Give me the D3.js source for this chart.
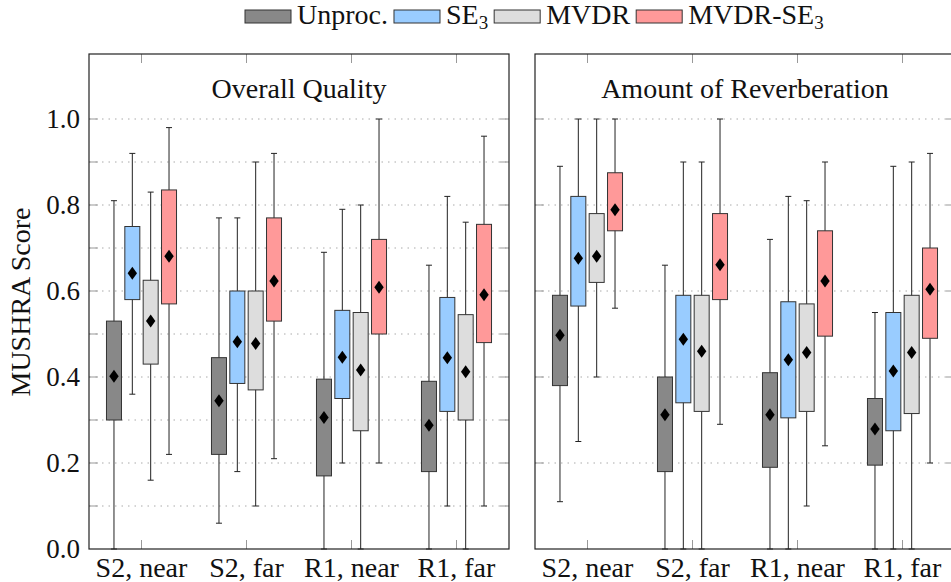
<!DOCTYPE html>
<html>
<head>
<meta charset="utf-8">
<script src="https://cdn.jsdelivr.net/npm/d3@7"></script>
<style>
body { margin: 0; background: #fff; }
svg text { font-family: "Liberation Serif", "Times New Roman", "DejaVu Serif", serif; fill: #111; }
</style>
</head>
<body>
<script>
var categories = ["S2, near", "S2, far", "R1, near", "R1, far"];
var series = ["Unproc.", "SE3", "MVDR", "MVDR-SE3"];
var colors = ["#888888", "#99ccff", "#dddddd", "#ff9999"];

// per category: [whisker low, q1, q3, whisker high, mean]
var qualityUnproc  = [[0, 0.30, 0.53, 0.81, 0.402], [0.06, 0.22, 0.445, 0.77, 0.345], [0, 0.17, 0.395, 0.69, 0.306], [0, 0.18, 0.39, 0.66, 0.288]];
var qualitySE3     = [[0.36, 0.58, 0.75, 0.92, 0.641], [0.18, 0.385, 0.60, 0.77, 0.482], [0.20, 0.35, 0.555, 0.79, 0.446], [0.10, 0.32, 0.585, 0.82, 0.445]];
var qualityMVDR    = [[0.16, 0.43, 0.625, 0.83, 0.53], [0.10, 0.37, 0.60, 0.90, 0.478], [0, 0.275, 0.55, 0.80, 0.416], [0, 0.30, 0.545, 0.76, 0.412]];
var qualityMVDRSE3 = [[0.22, 0.57, 0.835, 0.98, 0.681], [0.21, 0.53, 0.77, 0.92, 0.623], [0.20, 0.50, 0.72, 1.0, 0.609], [0.10, 0.48, 0.755, 0.96, 0.591]];

var reverbUnproc  = [[0.11, 0.38, 0.59, 0.89, 0.497], [0, 0.18, 0.40, 0.66, 0.312], [0, 0.19, 0.41, 0.72, 0.312], [0, 0.195, 0.35, 0.55, 0.279]];
var reverbSE3     = [[0.25, 0.565, 0.82, 1.0, 0.676], [0, 0.34, 0.59, 0.90, 0.488], [0, 0.305, 0.575, 0.82, 0.44], [0, 0.275, 0.55, 0.89, 0.414]];
var reverbMVDR    = [[0.40, 0.62, 0.78, 1.0, 0.681], [0, 0.32, 0.59, 0.90, 0.46], [0.10, 0.32, 0.57, 0.81, 0.457], [0, 0.315, 0.59, 0.90, 0.457]];
var reverbMVDRSE3 = [[0.56, 0.74, 0.875, 1.0, 0.789], [0.29, 0.58, 0.78, 1.0, 0.661], [0.24, 0.495, 0.74, 0.90, 0.623], [0.20, 0.49, 0.70, 0.92, 0.604]];

var yTicks = [0, 0.2, 0.4, 0.6, 0.8, 1.0];
var gridFine = [0.1, 0.2, 0.3, 0.4, 0.5, 0.6, 0.7, 0.8, 0.9, 1.0];
var gridCoarse = [0.2, 0.4, 0.6, 0.8, 1.0];

var W = 951, H = 582;
var plotTop = 54, plotBottom = 549, pw = 420;
var fs = 28;

var svg = d3.select("body").append("svg")
  .attr("width", W)
  .attr("height", H)
  .attr("font-family", "'Liberation Serif', 'Times New Roman', 'DejaVu Serif', serif");

var y = d3.scaleLinear().domain([0, 1]).range([plotBottom, 119]);
var xCat = d3.scaleBand().domain(categories).range([0, pw]);
var xSer = d3.scaleBand().domain(series).range([-36.7, 36.7]);
var boxW = 15, capW = 6, tickLen = 9;

var panels = [
  {title: "Overall Quality", x0: 89, grid: gridFine, labels: true,
   data: [qualityUnproc, qualitySE3, qualityMVDR, qualityMVDRSE3]},
  {title: "Amount of Reverberation", x0: 535, grid: gridCoarse, labels: false,
   data: [reverbUnproc, reverbSE3, reverbMVDR, reverbMVDRSE3]}
];

panels.forEach(function(p){
  var g = svg.append("g").attr("transform", "translate(" + p.x0 + ",0)");

  // dotted grid + short ticks on both edges
  p.grid.forEach(function(v){
    g.append("line")
      .attr("x1", 0).attr("x2", pw)
      .attr("y1", y(v)).attr("y2", y(v))
      .style("stroke", "#aaa")
      .style("stroke-dasharray", "1.5,5");
    g.append("line").attr("x1", 0).attr("x2", tickLen).attr("y1", y(v)).attr("y2", y(v)).style("stroke", "#999");
    g.append("line").attr("x1", pw - tickLen).attr("x2", pw).attr("y1", y(v)).attr("y2", y(v)).style("stroke", "#999");
  });

  // x ticks top and bottom
  categories.forEach(function(c){
    var cx = xCat(c) + xCat.bandwidth() / 2;
    g.append("line").attr("x1", cx).attr("x2", cx).attr("y1", plotBottom).attr("y2", plotBottom - tickLen).style("stroke", "#999");
    g.append("line").attr("x1", cx).attr("x2", cx).attr("y1", plotTop).attr("y2", plotTop + tickLen).style("stroke", "#999");
    g.append("text")
      .attr("x", cx).attr("y", 577)
      .attr("text-anchor", "middle")
      .style("font-size", fs + "px")
      .text(c);
  });

  // boxes
  series.forEach(function(s, si){
    p.data[si].forEach(function(d, ci){
      var cx = xCat(categories[ci]) + xCat.bandwidth() / 2 + xSer(s) + xSer.bandwidth() / 2;
      var bg = g.append("g");
      bg.append("line")
        .attr("x1", cx).attr("x2", cx)
        .attr("y1", y(d[0])).attr("y2", y(d[3]))
        .style("stroke", "#222");
      [d[0], d[3]].forEach(function(v){
        bg.append("line")
          .attr("x1", cx - capW / 2).attr("x2", cx + capW / 2)
          .attr("y1", y(v)).attr("y2", y(v))
          .style("stroke", "#222");
      });
      bg.append("rect")
        .attr("x", cx - boxW / 2)
        .attr("y", y(d[2]))
        .attr("width", boxW)
        .attr("height", y(d[1]) - y(d[2]))
        .style("fill", colors[si])
        .style("stroke", "#333");
      bg.append("path")
        .attr("d", "M0,-6.5L4.7,0L0,6.5L-4.7,0Z")
        .attr("transform", "translate(" + cx + "," + y(d[4]) + ")")
        .style("fill", "#000");
    });
  });

  // frame
  g.append("rect")
    .attr("x", 0).attr("y", plotTop)
    .attr("width", pw).attr("height", plotBottom - plotTop)
    .style("fill", "none")
    .style("stroke", "#222")
    .style("stroke-width", 1.2);

  g.append("text")
    .attr("x", pw / 2).attr("y", 98)
    .attr("text-anchor", "middle")
    .style("font-size", fs + "px")
    .text(p.title);

  if (p.labels) {
    yTicks.forEach(function(v){
      g.append("text")
        .attr("x", -9).attr("y", y(v))
        .attr("dy", "0.35em")
        .attr("text-anchor", "end")
        .style("font-size", (fs - 1) + "px")
        .text(v.toFixed(1));
    });
  }
});

svg.append("text")
  .attr("transform", "translate(30,302) rotate(-90)")
  .attr("text-anchor", "middle")
  .style("font-size", fs + "px")
  .text("MUSHRA Score");

// legend
var lx = 245;
series.forEach(function(s, i){
  svg.append("rect")
    .attr("x", lx).attr("y", 10)
    .attr("width", 46).attr("height", 13)
    .style("fill", colors[i])
    .style("stroke", "#333");
  var t = svg.append("text")
    .attr("x", lx + 52).attr("y", 24)
    .style("font-size", fs + "px");
  if (s.slice(-1) === "3") {
    t.append("tspan").text(s.slice(0, -1));
    t.append("tspan").attr("dy", 5).style("font-size", "19px").text("3");
  } else {
    t.text(s);
  }
  lx += 52 + t.node().getComputedTextLength() + 6;
});
</script>
</body>
</html>
